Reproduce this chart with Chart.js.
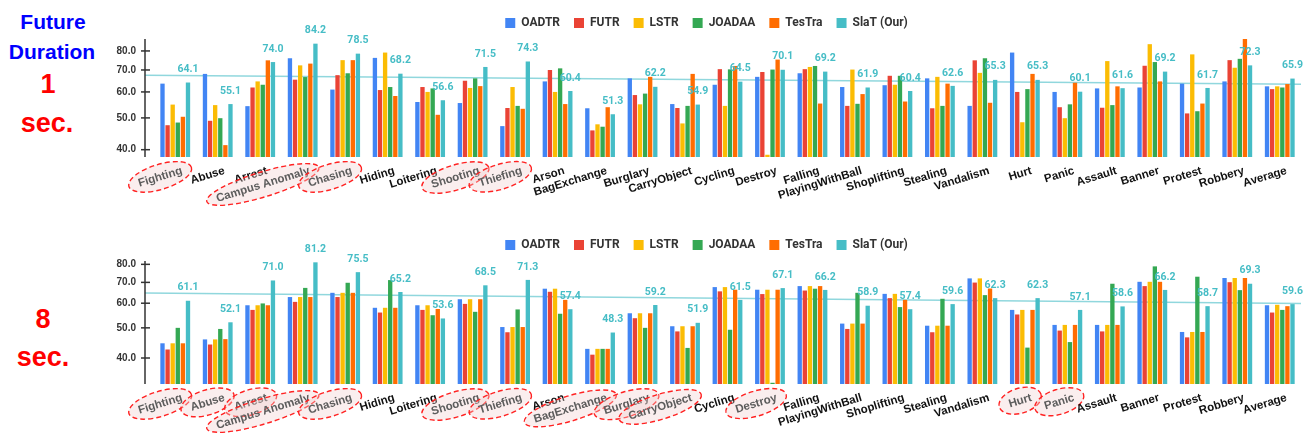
<!DOCTYPE html>
<html lang="en">
<head>
<meta charset="UTF-8">
<title>Future Duration - per class results</title>
<style>
  html, body { margin: 0; padding: 0; background: #fff; width: 1304px; height: 439px; overflow: hidden;
    font-family: 'Liberation Sans', Arial, sans-serif; }
  .side { position: absolute; font-weight: bold; transform: translate(-50%, -50%); white-space: nowrap; line-height: 1; }
  .blue { color: #0000ff; font-size: 21px; }
  .red { color: #ff0000; font-size: 27px; }
  .panel { position: absolute; left: 112px; width: 1192px; }
</style>
<script src="https://cdn.jsdelivr.net/npm/chart.js"></script>
</head>
<body>
<div class="side blue" style="left:53px;top:21px">Future</div>
<div class="side blue" style="left:52px;top:51px">Duration</div>
<div class="side red" style="left:48px;top:84px">1</div>
<div class="side red" style="left:47px;top:123px">sec.</div>
<div class="side red" style="left:43px;top:319px">8</div>
<div class="side red" style="left:43px;top:357px">sec.</div>

<div class="panel" style="top:0;height:222px"><canvas id="chart1"></canvas></div>
<div class="panel" style="top:222px;height:217px"><canvas id="chart2"></canvas></div>

<script>
const categories = ['Fighting', 'Abuse', 'Arrest', 'Campus Anomaly', 'Chasing', 'Hiding', 'Loitering',
  'Shooting', 'Thiefing', 'Arson', 'BagExchange', 'Burglary', 'CarryObject', 'Cycling', 'Destroy',
  'Falling', 'PlayingWithBall', 'Shoplifting', 'Stealing', 'Vandalism', 'Hurt', 'Panic', 'Assault',
  'Banner', 'Protest', 'Robbery', 'Average'];
const seriesNames = ['OADTR', 'FUTR', 'LSTR', 'JOADAA', 'TesTra', 'SlaT (Our)'];
const seriesColors = ['#4285f4', '#ea4335', '#fbbc04', '#34a853', '#ff6d01', '#46bdc6'];
const yTicks = [40, 50, 60, 70, 80];

// 1 sec.
const oadtr1 = [63.6, 68.1, 54.3, 76.0, 61.0, 76.2, 55.9, 55.5, 47.2, 64.6, 53.5, 66.0, 55.1, 63.1, 66.7, 68.4, 62.1, 62.9, 66.0, 54.4, 79.1, 60.0, 61.5, 61.9, 63.6, 64.6, 62.4];
const futr1 = [47.5, 49.0, 61.9, 65.4, 67.5, 60.8, 62.1, 64.9, 53.6, 70.0, 45.8, 58.7, 53.6, 70.4, 69.0, 70.4, 54.4, 67.2, 53.5, 74.9, 60.0, 53.9, 53.7, 72.1, 51.6, 75.0, 61.2];
const lstr1 = [54.9, 54.7, 64.6, 72.3, 75.0, 79.1, 60.0, 61.7, 62.1, 60.0, 47.8, 55.0, 48.1, 54.4, 38.6, 71.5, 70.2, 63.1, 66.7, 68.6, 48.5, 49.9, 74.5, 83.9, 78.1, 71.1, 62.4];
const joadaa1 = [48.4, 49.9, 63.1, 66.6, 68.4, 62.1, 61.5, 66.0, 54.4, 70.8, 47.0, 59.3, 54.4, 70.3, 70.2, 72.0, 55.2, 67.2, 54.4, 76.0, 61.2, 55.0, 54.7, 74.0, 52.4, 75.7, 61.9];
const testra1 = [50.4, 41.3, 74.9, 73.2, 75.0, 58.3, 51.1, 62.5, 53.3, 55.1, 53.9, 66.7, 68.1, 72.0, 75.3, 55.3, 59.1, 56.1, 63.6, 55.6, 68.1, 64.0, 62.4, 64.6, 55.3, 87.0, 63.4];
const slat1 = [64.1, 55.1, 74.0, 84.2, 78.5, 68.2, 56.6, 71.5, 74.3, 60.4, 51.3, 62.2, 54.9, 64.5, 70.1, 69.2, 61.9, 60.4, 62.6, 65.3, 65.3, 60.1, 61.6, 69.2, 61.7, 72.3, 65.9];
const highlight1 = ['Fighting', 'Campus Anomaly', 'Chasing', 'Shooting', 'Thiefing'];

// 8 sec.
const oadtr8 = [44.6, 45.9, 59.1, 62.8, 64.8, 58.0, 59.1, 61.8, 50.3, 66.8, 42.8, 55.7, 50.6, 67.6, 66.3, 68.1, 51.6, 64.3, 50.8, 72.1, 57.1, 51.1, 51.1, 70.3, 48.5, 72.3, 59.1];
const futr8 = [42.6, 44.2, 57.1, 60.6, 62.8, 56.0, 57.1, 59.7, 48.4, 65.3, 41.0, 53.7, 48.7, 65.5, 64.2, 65.9, 49.6, 62.3, 48.4, 69.9, 55.2, 49.0, 48.7, 68.1, 46.6, 70.1, 56.0];
const lstr8 = [44.6, 45.9, 59.1, 62.8, 64.8, 58.0, 59.1, 61.8, 50.3, 66.8, 42.8, 55.7, 50.6, 67.6, 66.3, 68.1, 51.6, 64.3, 50.8, 72.1, 57.1, 51.1, 51.1, 70.3, 48.5, 72.3, 59.3];
const joadaa8 = [50.0, 49.6, 59.9, 67.2, 69.8, 71.2, 54.9, 56.3, 57.3, 55.5, 42.8, 50.0, 43.1, 49.3, 33.3, 66.8, 64.8, 58.3, 62.0, 63.7, 43.2, 45.0, 69.3, 78.8, 73.0, 66.1, 57.1];
const testra8 = [44.6, 46.0, 59.1, 62.8, 64.8, 58.0, 57.5, 61.8, 50.3, 61.5, 42.8, 55.7, 50.6, 66.3, 66.3, 68.1, 51.6, 61.5, 50.8, 66.9, 57.1, 51.1, 51.1, 70.3, 48.5, 72.3, 58.7];
const slat8 = [61.1, 52.1, 71.0, 81.2, 75.5, 65.2, 53.6, 68.5, 71.3, 57.4, 48.3, 59.2, 51.9, 61.5, 67.1, 66.2, 58.9, 57.4, 59.6, 62.3, 62.3, 57.1, 58.6, 66.2, 58.7, 69.3, 59.6];
const highlight8 = ['Fighting', 'Abuse', 'Arrest', 'Campus Anomaly', 'Chasing', 'Shooting', 'Thiefing',
  'BagExchange', 'Burglary', 'CarryObject', 'Destroy', 'Hurt', 'Panic'];

// trendline, axis line, slanted category labels with circled ones, value labels
const decor = {
  id: 'decor',
  beforeDatasetsDraw(chart, args, opts) {
    const { ctx, chartArea: a, scales: { x, y } } = chart;
    const vals = opts.ours, n = vals.length;
    let sx = 0, sy = 0, sxy = 0, sxx = 0;
    vals.forEach((v, i) => { sx += i; sy += v; sxy += i * v; sxx += i * i; });
    const b = (n * sxy - sx * sy) / (n * sxx - sx * sx);
    const c = (sy - b * sx) / n;
    const x0 = x.getPixelForValue(0), step = x.getPixelForValue(1) - x0;
    const left = a.left - 9, right = a.right;
    const i0 = (left - x0) / step, i1 = (right - x0) / step;
    ctx.save();
    ctx.strokeStyle = 'rgba(70,189,198,0.6)';
    ctx.lineWidth = 1.5;
    ctx.beginPath();
    ctx.moveTo(left, y.getPixelForValue(c + b * i0));
    ctx.lineTo(right, y.getPixelForValue(c + b * i1));
    ctx.stroke();
    ctx.restore();
  },
  afterDraw(chart, args, opts) {
    const { ctx, chartArea: a, scales: { x, y } } = chart;
    ctx.save();
    const ax = a.left - 9;
    ctx.strokeStyle = '#333';
    ctx.lineWidth = 1.5;
    ctx.beginPath();
    ctx.moveTo(ax, a.top);
    ctx.lineTo(ax, a.bottom);
    ctx.stroke();
    yTicks.forEach(t => {
      const py = y.getPixelForValue(t);
      ctx.beginPath();
      ctx.moveTo(ax - 4, py);
      ctx.lineTo(ax + 5, py);
      ctx.stroke();
    });

    const th = 17 * Math.PI / 180;
    ctx.font = 'bold 11.5px "Liberation Sans", Arial, sans-serif';
    ctx.textAlign = 'right';
    ctx.textBaseline = 'top';
    categories.forEach((lab, i) => {
      const px = x.getPixelForValue(i) + 5, py = a.bottom + 8;
      const w = ctx.measureText(lab).width, h = 11;
      const hl = opts.highlight.includes(lab);
      ctx.save();
      ctx.translate(px, py);
      ctx.rotate(-th);
      if (hl) {
        ctx.beginPath();
        ctx.ellipse(-w / 2, h / 2, w / 2 + 10, h / 2 + 7, 0, 0, 2 * Math.PI);
        ctx.fillStyle = 'rgba(240,205,205,0.35)';
        ctx.fill();
        ctx.setLineDash([5, 3]);
        ctx.strokeStyle = '#f22';
        ctx.lineWidth = 1.4;
        ctx.stroke();
        ctx.setLineDash([]);
      }
      ctx.fillStyle = hl ? '#5c5c5c' : '#111';
      ctx.fillText(lab, 0, 0);
      ctx.restore();
    });

    const meta = chart.getDatasetMeta(5);
    ctx.font = 'bold 10.5px Roboto, sans-serif';
    ctx.fillStyle = '#46bdc6';
    ctx.textAlign = 'center';
    ctx.textBaseline = 'middle';
    meta.data.forEach((bar, i) => ctx.fillText(opts.ours[i].toFixed(1), bar.x, bar.y - 13));
    ctx.restore();
  }
};

function makeChart(id, series, highlight, yMin, yMax, padBottom) {
  return new Chart(document.getElementById(id), {
    type: 'bar',
    data: {
      labels: categories,
      datasets: series.map((d, k) => ({
        label: seriesNames[k],
        data: d,
        backgroundColor: seriesColors[k],
        borderWidth: 0,
        categoryPercentage: 0.72,
        barPercentage: 0.85
      }))
    },
    plugins: [decor],
    options: {
      responsive: true,
      maintainAspectRatio: false,
      animation: false,
      layout: { padding: { top: 3, right: 3, left: 0, bottom: padBottom } },
      scales: {
        x: {
          grid: { display: false, drawTicks: false },
          border: { display: false },
          ticks: { display: false },
          afterFit: s => { s.height = 0; }
        },
        y: {
          type: 'logarithmic',
          min: yMin,
          max: yMax,
          grid: { display: false, drawTicks: false },
          border: { display: false },
          afterBuildTicks: s => { s.ticks = yTicks.map(v => ({ value: v })); },
          afterFit: s => { s.width = 42; },
          ticks: {
            padding: 18,
            color: '#333',
            font: { family: 'Liberation Sans', weight: 'bold', size: 10 },
            callback: v => Number(v).toFixed(1)
          }
        }
      },
      plugins: {
        legend: {
          position: 'top',
          labels: {
            boxWidth: 10,
            boxHeight: 10,
            padding: 14,
            color: '#333',
            font: { family: 'Roboto', weight: 'bold', size: 12 }
          }
        },
        tooltip: { enabled: false },
        decor: { highlight: highlight, ours: series[5] }
      }
    }
  });
}

makeChart('chart1', [oadtr1, futr1, lstr1, joadaa1, testra1, slat1], highlight1, 38, 87, 65);
makeChart('chart2', [oadtr8, futr8, lstr8, joadaa8, testra8, slat8], highlight8, 33, 82, 55);
</script>
</body>
</html>
